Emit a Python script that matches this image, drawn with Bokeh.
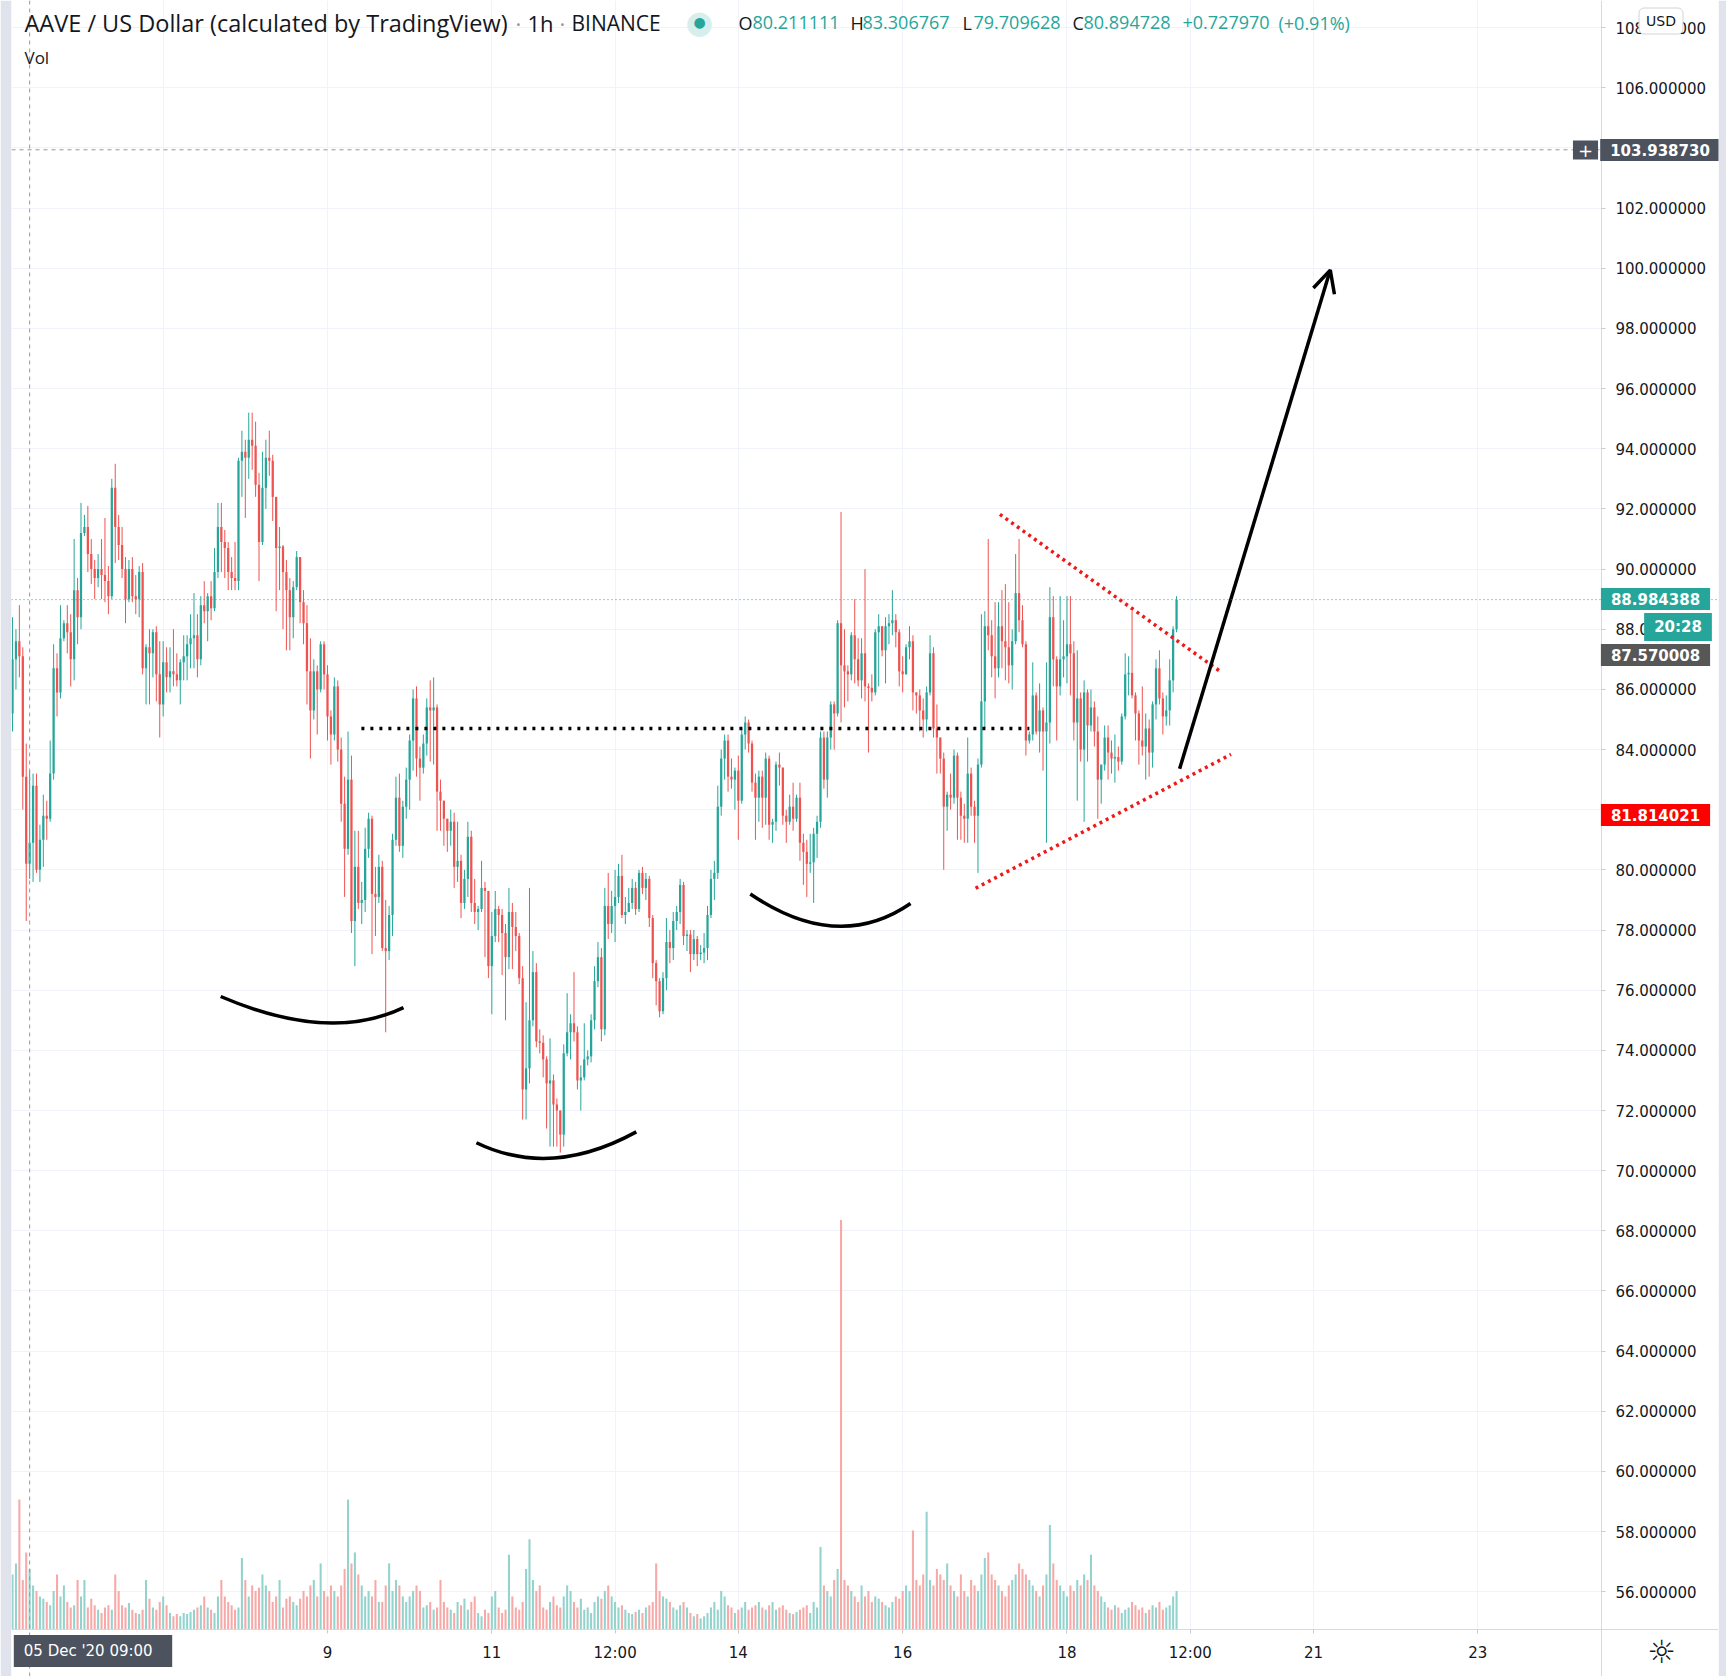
from bokeh.plotting import figure
from bokeh.models import (Range1d, FixedTicker, Label, Span, ColumnDataSource,
                          Arrow, OpenHead, PrintfTickFormatter)
from bokeh.embed import file_html
from bokeh.resources import INLINE

# ---------------- data: AAVE/USD, 1h candles, index 0 = 05 Dec 2020 04:00 ----------------
first_open = 85.2
close = [
    87.0, 87.6, 87.1, 83.1, 80.2, 80.9, 82.8, 80.0, 81.0, 81.8,
    81.7, 83.2, 86.7, 85.9, 87.7, 88.2, 87.9, 87.0, 89.3, 88.4,
    91.2, 91.4, 90.5, 90.0, 89.7, 90.0, 89.8, 89.6, 89.1, 92.7,
    91.4, 90.8, 90.0, 89.0, 90.0, 89.1, 89.0, 89.9, 86.7, 87.4,
    87.2, 87.9, 86.5, 85.5, 86.9, 86.4, 86.6, 86.5, 86.3, 86.9,
    87.1, 87.5, 87.7, 87.8, 87.0, 88.8, 88.6, 89.1, 88.7, 89.9,
    91.4, 90.9, 90.7, 89.9, 89.7, 89.6, 93.6, 93.9, 93.7, 94.3,
    94.1, 92.8, 90.9, 92.7, 93.7, 93.6, 92.4, 90.7, 90.75, 89.9,
    89.3, 88.4, 89.4, 90.4, 88.9, 88.2, 86.6, 85.3, 86.6, 86.0,
    87.5, 86.5, 85.1, 84.5, 86.1, 84.0, 82.2, 80.7, 83.0, 78.3,
    80.1, 78.9, 79.0, 80.7, 81.7, 79.2, 79.1, 80.1, 77.4, 77.3,
    78.5, 81.0, 82.4, 80.8, 82.1, 83.0, 84.3, 85.7, 83.7, 83.4,
    84.2, 85.4, 85.3, 85.4, 82.6, 82.3, 81.7, 81.3, 81.6, 80.1,
    80.3, 78.9, 79.7, 81.1, 78.9, 78.6, 78.7, 79.4, 79.3, 76.8,
    77.8, 78.7, 78.5, 77.9, 77.1, 78.6, 78.1, 77.8, 76.4, 72.7,
    73.4, 75.0, 76.6, 74.3, 74.25, 73.7, 72.9, 73.0, 72.2, 72.0,
    71.2, 73.9, 74.6, 74.9, 74.6, 73.0, 73.1, 73.7, 73.8, 75.0,
    76.3, 77.1, 74.7, 78.8, 78.2, 78.8, 79.1, 79.8, 78.5, 78.6,
    78.9, 79.4, 78.7, 79.9, 79.4, 79.7, 78.4, 76.9, 76.3, 75.3,
    76.4, 77.6, 77.4, 78.3, 78.6, 79.5, 77.8, 77.85, 77.2, 77.7,
    77.2, 77.25, 77.4, 78.5, 79.7, 79.9, 82.1, 83.7, 84.3, 83.1,
    83.0, 83.3, 82.3, 84.5, 84.9, 84.2, 82.9, 82.4, 83.1, 82.4,
    83.7, 81.5, 81.6, 83.5, 83.4, 81.8, 81.6, 82.1, 81.7, 82.4,
    80.9, 80.6, 80.2, 80.25, 81.2, 81.6, 84.4, 83.0, 84.4, 85.5,
    85.2, 88.2, 86.8, 86.6, 86.5, 87.8, 87.0, 86.3, 87.2, 86.1,
    86.05, 85.9, 87.9, 88.1, 87.3, 88.1, 88.2, 88.3, 87.9, 86.6,
    86.5, 87.4, 87.6, 85.9, 85.8, 85.3, 85.0, 85.9, 87.2, 84.7,
    84.4, 83.7, 82.1, 82.5, 82.4, 83.8, 82.4, 81.8, 81.7, 83.2,
    82.1, 81.8, 83.5, 85.6, 88.1, 87.8, 87.1, 86.7, 88.1, 87.6,
    87.4, 86.8, 87.6, 89.2, 88.3, 87.5, 84.3, 84.5, 85.8, 84.6,
    85.3, 84.6, 84.9, 88.4, 87.0, 86.1, 87.0, 87.1, 87.5, 87.2,
    84.9, 85.7, 84.0, 85.9, 84.8, 85.4, 84.6, 83.0, 83.5, 84.4,
    83.9, 83.7, 83.75, 83.6, 85.1, 86.5, 86.55, 85.8, 85.2, 84.3,
    84.1, 84.7, 83.9, 85.5, 86.7, 85.7, 85.1, 85.3, 86.3, 88.0,
    88.984388,
]
high = [
    88.4, 88.0, 88.8, 87.4, 84.2, 83.3, 83.2, 83.2, 81.5, 82.5,
    82.3, 84.3, 87.5, 87.2, 88.8, 88.3, 88.8, 88.5, 91.0, 89.7,
    92.2, 91.8, 92.1, 91.0, 90.3, 90.5, 91.0, 91.7, 90.1, 93.0,
    93.5, 91.8, 91.4, 90.4, 90.3, 90.4, 89.8, 90.1, 90.2, 87.5,
    88.0, 88.0, 88.1, 87.6, 87.6, 87.4, 87.4, 88.0, 87.2, 87.0,
    87.8, 87.8, 88.5, 89.2, 88.5, 89.1, 89.6, 89.2, 89.6, 90.7,
    92.2, 92.2, 91.3, 90.9, 90.4, 90.9, 93.7, 94.6, 94.3, 95.2,
    95.2, 94.9, 93.2, 93.9, 94.3, 94.6, 93.8, 92.4, 91.4, 90.8,
    90.3, 89.7, 89.6, 90.6, 90.4, 89.3, 88.8, 87.7, 87.0, 86.8,
    87.6, 87.6, 86.8, 85.3, 86.4, 86.3, 84.4, 83.1, 84.6, 83.8,
    81.3, 81.3, 79.6, 81.4, 81.9, 81.8, 80.1, 80.5, 80.3, 79.0,
    78.8, 81.2, 83.1, 83.2, 82.3, 83.4, 84.5, 86.0, 86.1, 84.1,
    84.5, 85.7, 86.3, 86.4, 85.5, 83.0, 82.3, 81.7, 82.0, 81.9,
    81.6, 80.5, 80.0, 81.6, 81.3, 79.7, 78.8, 80.3, 79.6, 79.3,
    78.6, 79.3, 78.8, 78.7, 78.2, 79.4, 78.9, 78.6, 77.9, 76.8,
    75.6, 79.4, 77.3, 76.9, 74.7, 74.5, 73.8, 74.4, 73.2, 72.4,
    72.0, 74.2, 75.9, 75.2, 76.6, 74.8, 73.5, 74.9, 74.0, 75.2,
    76.8, 77.6, 77.4, 79.4, 79.9, 79.3, 80.0, 80.2, 80.5, 79.1,
    79.4, 79.7, 79.6, 80.0, 80.1, 79.9, 79.8, 78.5, 77.0, 76.4,
    76.6, 78.4, 78.0, 78.6, 78.8, 79.7, 79.6, 78.0, 78.0, 78.0,
    77.8, 77.5, 77.9, 78.8, 80.0, 80.3, 82.8, 84.0, 84.5, 84.5,
    83.7, 83.4, 83.8, 84.7, 85.1, 85.0, 84.3, 83.2, 83.3, 83.3,
    83.9, 83.8, 81.7, 83.6, 83.9, 83.4, 82.0, 82.5, 82.9, 82.5,
    82.9, 81.2, 81.0, 81.2, 81.4, 81.8, 84.6, 84.6, 84.6, 85.6,
    85.6, 88.3, 91.9, 88.0, 86.8, 87.9, 89.0, 87.7, 87.7, 90.0,
    86.2, 86.5, 88.0, 88.5, 88.0, 88.4, 88.5, 89.3, 88.5, 88.0,
    87.1, 87.5, 88.1, 87.8, 85.9, 86.0, 85.7, 86.1, 87.8, 87.4,
    85.5, 84.4, 83.9, 82.6, 83.2, 84.0, 83.9, 82.6, 82.2, 84.4,
    83.4, 82.3, 83.7, 88.5, 88.6, 91.0, 88.3, 88.9, 88.9, 89.3,
    89.5, 88.9, 88.0, 90.5, 91.0, 88.8, 87.6, 84.6, 86.9, 85.9,
    86.2, 85.4, 86.9, 89.4, 89.1, 87.1, 89.1, 88.3, 89.1, 89.1,
    87.6, 87.3, 85.9, 86.3, 86.0, 86.0, 85.6, 85.1, 83.5, 84.8,
    84.8, 84.3, 84.5, 84.1, 85.2, 87.2, 87.1, 88.6, 85.9, 85.3,
    86.1, 85.2, 85.0, 85.6, 87.0, 87.3, 85.9, 85.8, 87.0, 88.1,
    89.1,
]
low = [
    84.6, 86.0, 86.4, 82.0, 78.3, 79.7, 79.6, 79.9, 79.6, 80.1,
    81.0, 81.6, 83.0, 85.1, 85.7, 87.6, 87.2, 86.1, 86.3, 87.5,
    88.0, 91.1, 89.9, 89.5, 89.0, 89.4, 89.0, 88.9, 88.5, 89.0,
    90.2, 90.3, 89.7, 88.2, 88.9, 88.9, 88.5, 88.4, 86.5, 85.5,
    85.5, 86.4, 85.6, 84.4, 85.1, 85.9, 85.9, 86.1, 86.1, 85.5,
    86.3, 86.3, 86.7, 86.7, 86.4, 86.8, 88.2, 87.6, 88.3, 88.6,
    89.7, 89.9, 89.7, 89.3, 89.3, 89.3, 89.3, 92.4, 91.7, 93.0,
    93.3, 92.4, 89.6, 90.8, 92.0, 93.1, 91.6, 88.6, 89.3, 88.0,
    87.3, 87.3, 87.7, 89.3, 88.2, 87.5, 85.5, 83.7, 85.0, 84.5,
    85.9, 86.0, 84.3, 83.5, 84.3, 83.6, 81.6, 79.1, 80.5, 77.9,
    76.8, 78.7, 78.2, 78.6, 80.4, 77.2, 77.8, 78.9, 77.3, 74.6,
    77.0, 77.8, 80.8, 80.6, 80.4, 81.7, 82.0, 83.3, 83.1, 82.3,
    83.2, 83.8, 83.6, 83.5, 81.3, 81.3, 80.8, 80.6, 80.8, 79.4,
    79.6, 78.4, 78.7, 79.1, 78.6, 78.2, 78.0, 78.6, 77.1, 76.4,
    75.2, 77.6, 77.6, 76.5, 75.0, 76.7, 76.7, 77.3, 76.2, 71.7,
    71.7, 72.9, 74.8, 74.1, 73.9, 73.1, 71.4, 70.8, 70.8, 70.8,
    70.6, 70.8, 73.8, 73.7, 74.3, 72.7, 72.0, 73.0, 73.5, 73.6,
    74.7, 76.1, 74.3, 74.5, 77.7, 77.9, 77.6, 78.9, 78.4, 78.2,
    78.7, 78.7, 78.5, 78.6, 79.2, 79.0, 78.1, 76.4, 75.5, 75.1,
    75.2, 76.0, 76.9, 77.0, 78.0, 78.2, 77.5, 77.3, 76.6, 77.0,
    76.8, 77.0, 76.9, 77.0, 78.4, 79.0, 79.7, 81.8, 83.0, 82.6,
    82.7, 82.0, 81.0, 82.2, 84.0, 83.9, 82.6, 81.0, 81.6, 81.4,
    81.5, 81.0, 80.9, 81.3, 82.8, 81.5, 80.9, 81.5, 81.3, 81.6,
    80.3, 79.5, 79.1, 79.9, 78.9, 80.4, 81.4, 82.7, 82.4, 84.0,
    84.0, 85.1, 84.9, 85.4, 85.6, 86.3, 86.2, 86.1, 85.7, 85.6,
    83.9, 85.6, 85.8, 86.1, 87.1, 86.2, 87.5, 87.8, 87.4, 86.1,
    85.9, 86.5, 87.0, 85.3, 85.2, 84.6, 84.4, 84.6, 85.8, 84.4,
    83.2, 83.2, 80.0, 81.3, 82.0, 82.2, 81.0, 81.0, 80.9, 80.9,
    81.8, 80.9, 79.9, 83.4, 84.7, 87.3, 86.4, 85.7, 86.4, 86.7,
    86.3, 86.2, 86.0, 87.5, 87.9, 87.4, 83.8, 84.2, 84.3, 84.5,
    83.9, 83.3, 80.9, 84.2, 86.1, 84.3, 85.8, 86.4, 86.2, 85.8,
    84.3, 82.3, 83.6, 81.6, 83.6, 84.6, 84.1, 81.7, 82.2, 83.3,
    83.0, 83.2, 82.9, 83.3, 83.5, 85.0, 85.8, 85.7, 84.3, 83.5,
    83.8, 83.0, 83.1, 83.4, 85.0, 85.5, 84.5, 84.8, 84.8, 85.9,
    87.9,
]
volume = [
    50,
    60, 118, 45, 70, 55, 40, 35, 30, 28, 25, 22, 35, 50, 30, 40, 25, 20, 22, 45, 30,
    45, 20, 28, 22, 18, 15, 20, 22, 18, 50, 35, 22, 20, 24, 18, 15, 14, 18, 45, 28,
    20, 18, 25, 30, 22, 15, 12, 14, 12, 15, 14, 16, 18, 20, 22, 30, 20, 18, 15, 30,
    45, 30, 25, 22, 18, 20, 65, 45, 30, 40, 35, 38, 50, 40, 35, 25, 30, 45, 20, 28,
    30, 25, 22, 28, 35, 30, 40, 45, 30, 60, 35, 30, 40, 35, 30, 40, 55, 118, 60, 70,
    50, 40, 30, 35, 30, 45, 25, 25, 40, 60, 35, 45, 40, 30, 25, 30, 35, 40, 35, 20,
    22, 25, 18, 20, 45, 25, 20, 18, 15, 25, 22, 28, 18, 25, 30, 15, 12, 18, 15, 30,
    35, 20, 15, 18, 68, 30, 20, 18, 25, 55, 82, 45, 35, 40, 20, 18, 25, 30, 22, 20,
    30, 40, 35, 25, 20, 28, 18, 20, 15, 25, 30, 28, 35, 40, 30, 25, 20, 22, 18, 15,
    14, 16, 18, 15, 20, 22, 25, 60, 35, 30, 28, 25, 20, 18, 22, 25, 20, 15, 12, 14,
    10, 12, 15, 20, 25, 18, 35, 30, 22, 20, 15, 18, 20, 25, 18, 20, 22, 25, 20, 18,
    22, 25, 18, 20, 22, 18, 15, 14, 16, 18, 20, 22, 15, 25, 20, 75, 40, 35, 30, 45,
    55, 372, 45, 40, 35, 30, 25, 40, 30, 35, 25, 30, 28, 25, 22, 20, 25, 30, 28, 35,
    40, 35, 90, 45, 40, 50, 107, 45, 40, 55, 50, 45, 60, 40, 35, 30, 50, 35, 30, 45,
    40, 35, 50, 65, 70, 50, 45, 40, 35, 30, 40, 45, 50, 60, 55, 50, 45, 40, 35, 30,
    40, 50, 95, 60, 45, 40, 35, 30, 40, 35, 45, 40, 50, 45, 68, 40, 35, 30, 25, 20,
    18, 22, 20, 15, 18, 20, 25, 22, 18, 20, 15, 18, 22, 20, 25, 18, 20, 22, 30, 35,
]

# axis ticks (hour index) and labels
hour_ticks = [92, 140, 176, 212, 260, 308, 344, 380, 428]
hour_tick_labels = ["9", "11", "12:00", "14", "16", "18", "12:00", "21", "23"]
grid_hours = [44] + hour_ticks
price_ticks = list(range(56, 110, 2))

# chart markers
crosshair_hour = 5
crosshair_price = 103.938730
last_price = 88.984388

# hand drawings (hour index, price)
neck_x, neck_y = [101.9, 297.0], [84.7, 84.7]
tri_up_x, tri_up_y = [288.4, 352.6], [91.82, 86.61]
tri_lo_x, tri_lo_y = [281.3, 355.9], [79.39, 83.84]
arrow_x, arrow_y = [340.9, 384.9], [83.36, 99.94]
arc_x0 = [60.8, 135.5, 215.5]
arc_y0 = [75.79, 70.93, 79.20]
arc_x1 = [114.2, 182.2, 262.3]
arc_y1 = [75.42, 71.29, 78.88]
arc_cx = [92.5, 157.2, 241.1]
arc_cy = [74.24, 69.73, 77.22]

# view window (hour index / price) and where the two scales sit
X_START, X_END = -0.3, 498.3
Y_START, Y_END = 53.184, 108.902
PRICE_AXIS_AT = 464.1      # hour index of the price scale line
TIME_AXIS_AT = 54.747      # price level of the time scale line
VOL_START, VOL_END = -42.7, 1479.8

# ---------------- derived ----------------
n = len(close)
assert len(high) == n and len(low) == n and len(volume) == n
opens = [first_open] + close[:-1]
xs = list(range(n))
up = [c >= o for o, c in zip(opens, close)]
bb = [min(o, c) for o, c in zip(opens, close)]
bt = [max(max(o, c), min(o, c) + 0.04) for o, c in zip(opens, close)]
hi = [max(h, t) for h, t in zip(high, bt)]
lo = [min(l, b) for l, b in zip(low, bb)]
UP, DN = "#26a69a", "#ef5350"
src = ColumnDataSource(dict(
    x=xs, bt=bt, bb=bb, hi=hi, lo=lo, vol=volume,
    color=[UP if u else DN for u in up],
    vcolor=["#92d3cd" if u else "#f7a9a7" for u in up],
))

FIG_W, FIG_H = 1726, 1676
BL, BR = 11, 8
p = figure(width=FIG_W, height=FIG_H,
           x_range=Range1d(X_START, X_END), y_range=Range1d(Y_START, Y_END),
           y_axis_location="right", output_backend="svg", toolbar_location=None,
           min_border_left=BL, min_border_right=BR, min_border_top=0, min_border_bottom=0)
p.extra_y_ranges = {"vol": Range1d(VOL_START, VOL_END)}
p.background_fill_color = "white"
p.border_fill_color = "#e0e3eb"
p.outline_line_color = None

# grid
p.xgrid.ticker = FixedTicker(ticks=grid_hours)
p.ygrid.ticker = FixedTicker(ticks=price_ticks)
p.grid.grid_line_color = "#f0f3fa"
p.grid.grid_line_width = 1

# axes placed at fixed locations inside the canvas, like TradingView's scales
AX_FONT = "DejaVu Sans"
yax = p.yaxis[0]
xax = p.xaxis[0]
yax.fixed_location = PRICE_AXIS_AT
xax.fixed_location = TIME_AXIS_AT
yax.ticker = FixedTicker(ticks=price_ticks)
yax.formatter = PrintfTickFormatter(format="%.6f")
xax.ticker = FixedTicker(ticks=hour_ticks)
xax.major_label_overrides = dict(zip(hour_ticks, hour_tick_labels))
for ax in (xax, yax):
    ax.major_label_text_font = AX_FONT
    ax.major_label_text_font_size = "15px"
    ax.major_label_text_color = "#131722"
    ax.axis_line_color = "#d6d9e0"
    ax.major_tick_line_color = "#c9ccd4"
    ax.major_tick_out = 4
    ax.major_tick_in = 0
    ax.minor_tick_out = 0
    ax.minor_tick_in = 0
yax.major_label_standoff = 10
xax.major_label_standoff = 11

# white backing for the two scale areas (hides grid lines there)
p.quad(left=[PRICE_AXIS_AT], right=[X_END], bottom=[Y_START], top=[Y_END],
       fill_color="white", line_color=None)
p.quad(left=[X_START], right=[PRICE_AXIS_AT], bottom=[Y_START], top=[TIME_AXIS_AT],
       fill_color="white", line_color=None)

# volume
p.vbar(x="x", top="vol", bottom=0, width=0.6, fill_color="vcolor", line_color=None,
       y_range_name="vol", source=src)
# candles
p.segment(x0="x", y0="hi", x1="x", y1="lo", line_color="color", line_width=1, source=src)
p.vbar(x="x", top="bt", bottom="bb", width=0.66, fill_color="color", line_color=None, source=src)

# drawings
p.line(neck_x, neck_y, line_color="black", line_width=3.5, line_dash="3 6")
p.line(tri_up_x, tri_up_y, line_color="#f01818", line_width=3.5, line_dash="3 4")
p.line(tri_lo_x, tri_lo_y, line_color="#f01818", line_width=3.5, line_dash="3 4")
p.quadratic(x0=arc_x0, y0=arc_y0, x1=arc_x1, y1=arc_y1, cx=arc_cx, cy=arc_cy,
            line_color="black", line_width=3.5)
p.add_layout(Arrow(end=OpenHead(size=22, line_width=3.5, line_color="black"),
                   x_start=arrow_x[0], y_start=arrow_y[0], x_end=arrow_x[1], y_end=arrow_y[1],
                   line_width=3.5, line_color="black"))

# lines
p.add_layout(Span(location=last_price, dimension="width", line_color=UP,
                  line_dash="1 3", line_width=1))
p.add_layout(Span(location=crosshair_price, dimension="width", line_color="#9598a1",
                  line_dash="4 4", line_width=1))
p.add_layout(Span(location=crosshair_hour, dimension="height", line_color="#9598a1",
                  line_dash="4 4", line_width=1))


# ---------------- labels (page coords -> frame screen coords) ----------------
def lab(px, py, text, **kw):
    kw.setdefault("text_baseline", "middle")
    p.add_layout(Label(x=px - BL, y=FIG_H - py, x_units="screen", y_units="screen",
                       text=text, **kw))


HF = "Open Sans"
DARK = "#131722"
lab(24, 22, "AAVE / US Dollar (calculated by TradingView)", text_font=HF,
    text_font_size="23.5px", text_color=DARK)
lab(515, 22, "·", text_font=HF, text_font_size="22px", text_color="#9598a1")
lab(527, 22, "1h", text_font=HF, text_font_size="22px", text_color=DARK)
lab(559, 22, "·", text_font=HF, text_font_size="22px", text_color="#9598a1")
lab(571, 22, "BINANCE", text_font=HF, text_font_size="21px", text_color=DARK)

# status dot
lab(699, 21, "●", text_font="DejaVu Sans", text_font_size="32px", text_color="#d7efec",
    text_align="center")
lab(699, 21, "●", text_font="DejaVu Sans", text_font_size="14px", text_color=UP,
    text_align="center")

ohlc = [(738, "O", DARK), (752, "80.211111", UP), (850, "H", DARK), (862, "83.306767", UP),
        (962, "L", DARK), (973, "79.709628", UP), (1072, "C", DARK), (1083, "80.894728", UP),
        (1182, "+0.727970", UP), (1278, "(+0.91%)", UP)]
for px, t, c in ohlc:
    lab(px, 22, t, text_font=HF, text_font_size="18px", text_color=c)

lab(24, 57, "Vol", text_font=HF, text_font_size="17px", text_color=DARK)

BOLD = dict(text_font=AX_FONT, text_font_size="15px", text_color="white",
            text_font_style="bold", text_align="center")
PAD = dict(left=10, right=10, top=5, bottom=5)
lab(1659.5, 149.5, "103.938730", background_fill_color="#4c525e", padding=PAD, **BOLD)
lab(1585, 149.5, "+", text_font=AX_FONT, text_font_size="18px", text_color="white",
    text_align="center", background_fill_color="#4c525e",
    padding=dict(left=5, right=5, top=3, bottom=3))
lab(1655, 598.5, "88.984388", background_fill_color=UP, padding=PAD, **BOLD)
lab(1677.5, 626.5, "20:28", background_fill_color=UP, padding=PAD, **BOLD)
lab(1655, 654.5, "87.570008", background_fill_color="#575757", padding=PAD, **BOLD)
lab(1655, 814.5, "81.814021", background_fill_color="#ff0000", padding=PAD, **BOLD)
lab(1660.5, 20.5, "USD", text_font=AX_FONT, text_font_size="14px", text_color=DARK,
    text_align="center", background_fill_color="white", border_line_color="#d1d4dc",
    border_radius=5, padding=dict(left=7, right=7, top=5, bottom=5))

lab(92.5, 1650.5, "05 Dec '20   09:00", text_font=AX_FONT, text_font_size="15px",
    text_color="white", text_align="center", background_fill_color="#4c525e",
    padding=dict(left=10, right=10, top=7, bottom=7))
lab(1661, 1651, "☼", text_font="DejaVu Sans", text_font_size="32px", text_color=DARK,
    text_align="center")

open("out.html", "w").write(file_html(p, INLINE))
